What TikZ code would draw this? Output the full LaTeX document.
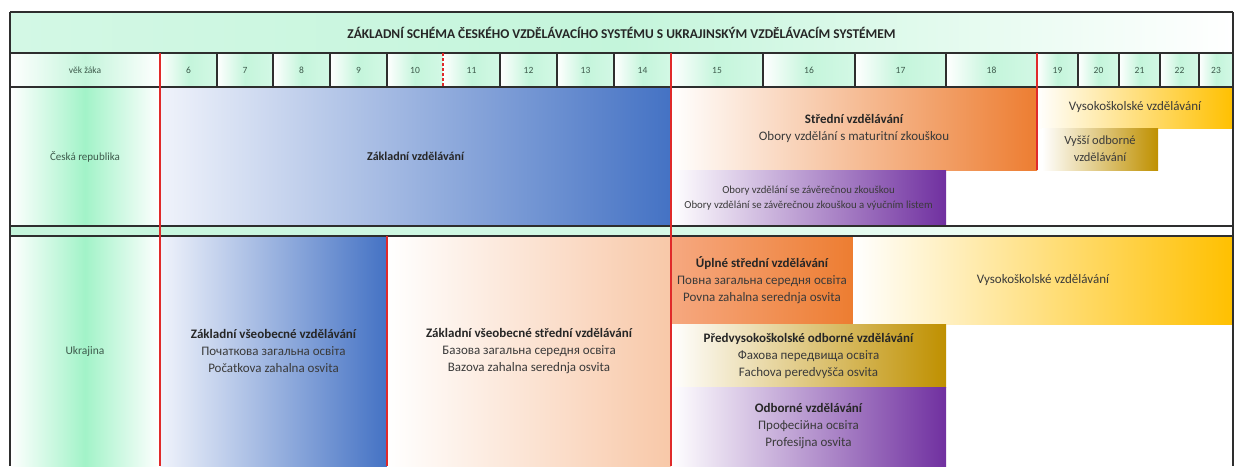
\documentclass[tikz,border=0pt]{standalone}
\usepackage{fontspec}
\setmainfont{Carlito}
\definecolor{mintM}{HTML}{A2F3C8}
\definecolor{mintL}{HTML}{D3F8E5}
\definecolor{mintA}{HTML}{C4F5DB}
\definecolor{zblue}{HTML}{4472C4}
\definecolor{zblueL}{HTML}{F0F3FB}
\definecolor{zorange}{HTML}{ED7D31}
\definecolor{zpeach}{HTML}{F8C8A8}
\definecolor{zsalmon}{HTML}{F6A880}
\definecolor{zpurple}{HTML}{7030A0}
\definecolor{zgold}{HTML}{FFC000}
\definecolor{zdgold}{HTML}{BF9000}
\definecolor{zred}{HTML}{E02A2A}
\definecolor{zline}{HTML}{2E2E2E}
\definecolor{txt}{HTML}{3A3A3A}
\definecolor{lbl}{HTML}{3E5A4C}
\tikzset{
  cell/.style={anchor=north west, inner sep=0pt, outer sep=0pt, draw=none, align=center, text=txt},
  agecell/.style={inner sep=0pt, outer sep=0pt, draw=none, minimum height=34pt, text=lbl, font=\fontsize{9.5}{11}\selectfont},
  frame/.style={draw=zline, line width=1.6pt},
  redline/.style={draw=zred, line width=2.2pt},
  body/.style={font=\fontsize{13}{17}\selectfont},
}
\begin{document}
\begin{tikzpicture}[x=1pt,y=-1pt]
\useasboundingbox (0,0) rectangle (1239,466);
\fill[white] (0,0) rectangle (1239,466);
% title
\node[cell, minimum width=1223pt, minimum height=41pt, left color=mintL, right color=white, middle color=mintA, text=black!85,
  font=\fontsize{13.4}{15}\selectfont\bfseries] (title) at (10,12)
  {ZÁKLADNÍ SCHÉMA ČESKÉHO VZDĚLÁVACÍHO SYSTÉMU S UKRAJINSKÝM VZDĚLÁVACÍM SYSTÉMEM};
% age row
\node[agecell, minimum width=150pt, left color=white, right color=white, middle color=mintA] (agelbl) at (85,70) {věk žáka};
\foreach \a/\l/\r in {6/160/217, 7/217/273, 8/273/330, 9/330/387, 10/387/443, 11/443/500, 12/500/557, 13/557/614, 14/614/671,
  15/671/763, 16/763/855, 17/855/946, 18/946/1037, 19/1037/1078, 20/1078/1119, 21/1119/1160, 22/1160/1199, 23/1199/1233}
  \node[agecell, minimum width={\r pt-\l pt}, left color=white, right color=mintL, middle color=mintA] (age\a) at ({(\l+\r)/2},70) {\a};
% separator strip
\fill[left color=mintA, right color=white, middle color=mintL] (10,226) rectangle (1233,236);
% Czech row
\node[cell, minimum width=150pt, minimum height=139pt, left color=white, right color=white, middle color=mintM, text=lbl,
  font=\fontsize{11}{13}\selectfont] (cz) at (10,87) {Česká republika};
\node[cell, minimum width=511pt, minimum height=139pt, left color=zblueL, right color=zblue, text=black!85,
  font=\fontsize{12}{14}\selectfont\bfseries] (zv) at (160,87) {Základní vzdělávání};
\node[cell, body, minimum width=366pt, minimum height=83pt, left color=white, right color=zorange] (sv) at (671,87)
  {\textbf{\color{black!85}Střední vzdělávání}\\Obory vzdělání s maturitní zkouškou};
\node[cell, minimum width=275pt, minimum height=56pt, left color=white, right color=zpurple,
  font=\fontsize{10.8}{15}\selectfont] (oz) at (671,170)
  {Obory vzdělání se závěrečnou zkouškou\\Obory vzdělání se závěrečnou zkouškou a výučním listem};
\node[cell, body, minimum width=196pt, minimum height=41pt, left color=white, right color=zgold] (vs1) at (1037,87) {Vysokoškolské vzdělávání};
\node[cell, minimum width=116pt, minimum height=42pt, left color=white, right color=zdgold,
  font=\fontsize{12.5}{17}\selectfont] (vo) at (1042,128) {Vyšší odborné\\vzdělávání};
% Ukraine row
\node[cell, minimum width=150pt, minimum height=230pt, left color=white, right color=white, middle color=mintM, text=lbl,
  font=\fontsize{11.5}{13}\selectfont] (ua) at (10,236) {Ukrajina};
\node[cell, body, minimum width=227pt, minimum height=230pt, left color=zblueL, right color=zblue] (zvv) at (160,236)
  {\textbf{\color{black!85}Základní všeobecné vzdělávání}\\Початкова загальна освіта\\Počatkova zahalna osvita};
\node[cell, body, minimum width=284pt, minimum height=230pt, left color=white, right color=zpeach] (zvs) at (387,236)
  {\textbf{\color{black!85}Základní všeobecné střední vzdělávání}\\Базова загальна середня освіта\\Bazova zahalna serednja osvita};
\node[cell, body, minimum width=182pt, minimum height=88pt, left color=zsalmon, right color=zorange] (usv) at (671,236)
  {\textbf{\color{black!85}Úplné střední vzdělávání}\\Повна загальна середня освіта\\Povna zahalna serednja osvita};
\node[cell, body, minimum width=380pt, minimum height=88pt, left color=white, right color=zgold] (vs2) at (853,236)
  {Vysokoškolské vzdělávání};
\node[cell, body, minimum width=275pt, minimum height=63pt, left color=white, right color=zdgold] (pov) at (671,324)
  {\textbf{\color{black!85}Předvysokoškolské odborné vzdělávání}\\Фахова передвища освіта\\Fachova peredvyšča osvita};
\node[cell, body, minimum width=275pt, minimum height=79pt, left color=white, right color=zpurple] (odb) at (671,387)
  {\textbf{\color{black!85}Odborné vzdělávání}\\Професійна освіта\\Profesijna osvita};
% frame lines
\foreach \y in {12,53,87,226,236} \draw[frame] (10,\y) -- (1233,\y);
\draw[frame] (10,12) -- (10,466);
\draw[frame] (1233,12) -- (1233,466);
\foreach \x in {217,273,330,387,500,557,614,763,855,946,1078,1119,1160,1199}
  \draw[draw=zline, line width=1.3pt] (\x,53) -- (\x,87);
% red lines
\draw[redline] (160,53) -- (160,466);
\draw[redline] (671,53) -- (671,466);
\draw[redline] (1037,53) -- (1037,170);
\draw[redline] (387,236) -- (387,466);
\draw[redline, line width=1.6pt, dash pattern=on 3pt off 2pt] (443,53) -- (443,87);
\end{tikzpicture}
\end{document}
